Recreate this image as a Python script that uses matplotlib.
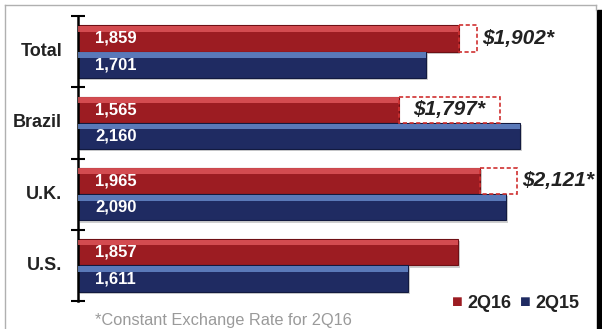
import numpy as np
import matplotlib.pyplot as plt
from matplotlib.patches import Rectangle

plt.rcParams['font.family'] = ['Liberation Sans', 'DejaVu Sans']

regions = ['Total', 'Brazil', 'U.K.', 'U.S.']
q16 = [1859, 1565, 1965, 1857]
q15 = [1701, 2160, 2090, 1611]
const_fx = ['$1,902*', '$1,797*', '$2,121*', None]
box_end = [1948, 2060, 2143, None]

red, red_hi, red_dk = '#9c1c22', '#e2585c', '#6e1015'
blue, blue_hi, blue_dk = '#1f2b62', '#6a8ed0', '#121a40'

fig = plt.figure(figsize=(6.02, 3.29), dpi=100)
ax = fig.add_axes([78/602, 1-301/329, 512/602, 285/329])

y = np.arange(len(regions))
h = 0.37
yr = y - h/2
yb = y + h/2

# shadows
ax.barh(yr + 0.03, q16, height=h, left=8, color='#cfcfcf', zorder=1)
ax.barh(yb + 0.03, q15, height=h, left=8, color='#cfcfcf', zorder=1)
# main bars
ax.barh(yr, q16, height=h, color=red, edgecolor=red_dk, linewidth=0.8, zorder=2)
ax.barh(yb, q15, height=h, color=blue, edgecolor=blue_dk, linewidth=0.8, zorder=2)
# top highlight
ax.barh(yr - h/2 + 0.05, q16, height=0.08, color=red_hi, alpha=0.8, zorder=3)
ax.barh(yb - h/2 + 0.05, q15, height=0.08, color=blue_hi, alpha=0.8, zorder=3)

for i in range(len(regions)):
    ax.text(85, yr[i], f'{q16[i]:,}', color='white', fontsize=12, fontweight='bold',
            va='center', ha='left', zorder=4)
    ax.text(85, yb[i], f'{q15[i]:,}', color='white', fontsize=12, fontweight='bold',
            va='center', ha='left', zorder=4)
    if const_fx[i]:
        ax.add_patch(Rectangle((q16[i], yr[i] - h/2), box_end[i] - q16[i], h,
                               fill=False, edgecolor='#d03030', linestyle=(0, (2.5, 1.5)),
                               linewidth=1.2, zorder=4))
        if i == 1:
            tx = (q16[i] + box_end[i]) / 2
            ax.text(tx, yr[i], const_fx[i], fontsize=15, fontweight='bold', style='italic',
                    color='#222222', ha='center', va='center', zorder=5)
        else:
            ax.text(box_end[i] + 25, yr[i], const_fx[i], fontsize=15, fontweight='bold',
                    style='italic', color='#222222', ha='left', va='center', zorder=5)

ax.set_xlim(0, 2500)
ax.set_ylim(3.5, -0.5)
ax.set_yticks(np.arange(-0.5, 4, 1))
ax.set_yticklabels([])
ax.tick_params(axis='y', direction='inout', length=10, width=1.5, color='black')
ax.set_xticks([])
for s in ['top', 'right', 'bottom']:
    ax.spines[s].set_visible(False)
ax.spines['left'].set_linewidth(1.8)

for i, r in enumerate(regions):
    ax.text(-78, y[i], r, fontsize=13, fontweight='bold', color='#222222',
            ha='right', va='center')

# legend
fig.text(452/602, 1-303/329, '\u25A0', color=red, fontsize=13, va='center', ha='left')
fig.text(467/602, 1-303/329, '2Q16', color='#222222', fontsize=13, fontweight='bold',
         va='center', ha='left')
fig.text(520/602, 1-303/329, '\u25A0', color=blue, fontsize=13, va='center', ha='left')
fig.text(535/602, 1-303/329, '2Q15', color='#222222', fontsize=13, fontweight='bold',
         va='center', ha='left')

fig.text(95/602, 1-320/329, '*Constant Exchange Rate for 2Q16', color='#9a9a9a',
         fontsize=11.8, va='center', ha='left')

# frame
fig.add_artist(plt.Line2D([5/602, 596/602], [1-5/329, 1-5/329], color='#b0b0b0', lw=1))
fig.add_artist(plt.Line2D([5/602, 5/602], [1-5/329, 0], color='#b0b0b0', lw=1))
fig.add_artist(plt.Line2D([596/602, 596/602], [1-5/329, 1-10/329], color='#b0b0b0', lw=1))
fig.add_artist(Rectangle((597/602, 0), 5/602, 1-10/329, color='black',
                         transform=fig.transFigure))

fig.savefig('out.png', dpi=100)
